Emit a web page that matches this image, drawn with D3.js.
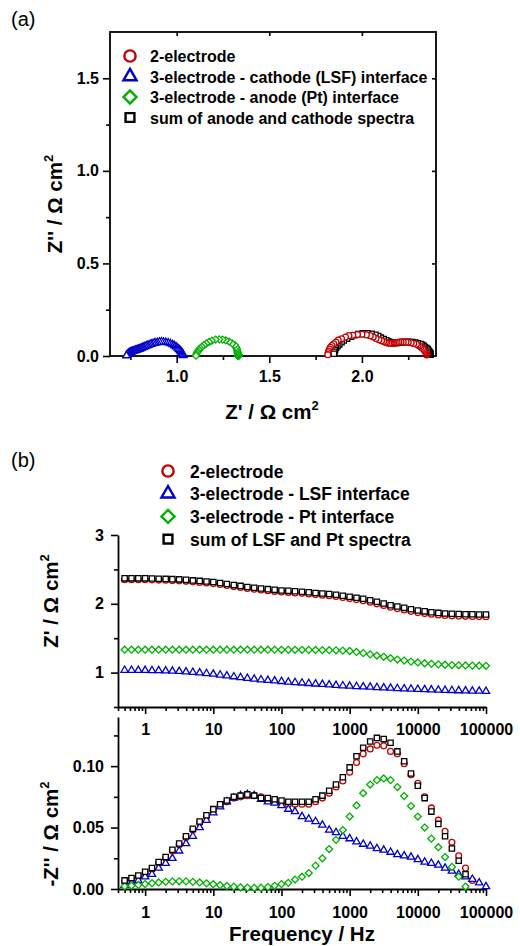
<!DOCTYPE html>
<html>
<head>
<meta charset="utf-8">
<script src="https://cdn.jsdelivr.net/npm/d3@7"></script>
<style>
  body { margin: 0; background: #fff; }
  svg { display: block; font-family: "Liberation Sans", Arial, sans-serif; }
  .tl { font-size: 16px; font-weight: bold; fill: #000; }
  .title { font-size: 20.5px; font-weight: bold; }
  .leg { font-weight: bold; }
</style>
</head>
<body>
<div id="chart"></div>
<script>
// frequencies (Hz), 10 points per decade
var freq = [0.5, 0.631, 0.794, 1, 1.26, 1.58, 2, 2.51, 3.16, 3.98, 5.01, 6.31, 7.94,
  10, 12.6, 15.8, 20, 25.1, 31.6, 39.8, 50.1, 63.1, 79.4,
  100, 126, 158, 200, 251, 316, 398, 501, 631, 794,
  1000, 1260, 1580, 2000, 2510, 3160, 3980, 5010, 6310, 7940,
  10000, 12600, 15800, 20000, 25100, 31600, 39800, 50100, 63100, 79400, 100000];

// 2-electrode
var zre2el = [2.35, 2.35, 2.35, 2.35, 2.348, 2.345, 2.342, 2.338, 2.334, 2.327, 2.319, 2.311, 2.303,
  2.294, 2.28, 2.266, 2.25, 2.238, 2.223, 2.211, 2.2, 2.19, 2.18,
  2.171, 2.164, 2.158, 2.152, 2.144, 2.134, 2.126, 2.117, 2.106, 2.092,
  2.076, 2.061, 2.045, 2.024, 2.0, 1.976, 1.951, 1.93, 1.911, 1.89,
  1.872, 1.86, 1.848, 1.838, 1.83, 1.825, 1.821, 1.818, 1.816, 1.814, 1.813];
var zim2el = [0.006, 0.008, 0.010, 0.013, 0.016, 0.021, 0.025, 0.031, 0.036, 0.042, 0.048, 0.054, 0.059,
  0.064, 0.068, 0.071, 0.074, 0.075, 0.076, 0.076, 0.075, 0.073, 0.071,
  0.070, 0.069, 0.069, 0.069, 0.069, 0.071, 0.074, 0.078, 0.083, 0.088,
  0.095, 0.103, 0.110, 0.114, 0.117, 0.1165, 0.112, 0.110, 0.102, 0.093,
  0.086, 0.075, 0.066, 0.056, 0.047, 0.038, 0.027, 0.017, 0.007, null, null];

// 3-electrode, cathode (LSF)
var zreLSF = [1.035, 1.035, 1.034, 1.033, 1.031, 1.029, 1.026, 1.022, 1.018, 1.012, 1.005, 0.997, 0.988,
  0.978, 0.966, 0.954, 0.941, 0.929, 0.918, 0.907, 0.897, 0.888, 0.88,
  0.872, 0.864, 0.857, 0.85, 0.843, 0.836, 0.829, 0.822, 0.816, 0.81,
  0.805, 0.799, 0.794, 0.789, 0.784, 0.779, 0.775, 0.77, 0.766, 0.762,
  0.758, 0.754, 0.75, 0.747, 0.744, 0.741, 0.738, 0.735, 0.733, 0.731, 0.729];
var zimLSF = [0.003, 0.005, 0.007, 0.010, 0.012, 0.017, 0.021, 0.025, 0.031, 0.037, 0.043, 0.050, 0.056,
  0.062, 0.067, 0.071, 0.074, 0.076, 0.077, 0.076, 0.073, 0.071, 0.070,
  0.068, 0.065, 0.063, 0.059, 0.057, 0.055, 0.052, 0.048, 0.046, 0.043,
  0.041, 0.0385, 0.0365, 0.035, 0.033, 0.0317, 0.030, 0.028, 0.027, 0.026,
  0.024, 0.022, 0.021, 0.0195, 0.017, 0.0146, 0.012, 0.010, 0.008, 0.005, 0.002];

// 3-electrode, anode (Pt)
var zrePt = [1.333, 1.333, 1.333, 1.333, 1.333, 1.333, 1.333, 1.333, 1.333, 1.333, 1.333, 1.333, 1.333,
  1.333, 1.333, 1.333, 1.333, 1.333, 1.333, 1.333, 1.333, 1.333, 1.333,
  1.332, 1.332, 1.331, 1.331, 1.330, 1.329, 1.328, 1.326, 1.324, 1.32,
  1.314, 1.30, 1.283, 1.265, 1.248, 1.23, 1.21, 1.19, 1.175, 1.16,
  1.147, 1.136, 1.127, 1.12, 1.114, 1.11, 1.106, 1.104, 1.102, 1.10, 1.099];
var zimPt = [0.0022, 0.0027, 0.0033, 0.004, 0.0047, 0.0053, 0.0058, 0.0062, 0.0063, 0.0062, 0.0058, 0.0053, 0.0046,
  0.0039, 0.0031, 0.0025, 0.0019, 0.0014, 0.0011, 0.001, 0.0011, 0.0016, 0.0026,
  0.004, 0.005, 0.0077, 0.010, 0.013, 0.019, 0.025, 0.0325, 0.040, 0.048,
  0.059, 0.068, 0.078, 0.085, 0.0886, 0.090, 0.0886, 0.083, 0.0756, 0.0675,
  0.059, 0.050, 0.041, 0.034, 0.026, 0.018, 0.010, 0.002, null, null, null];

// sum of anode and cathode spectra
var zreSum = [2.37, 2.37, 2.37, 2.37, 2.368, 2.365, 2.362, 2.358, 2.355, 2.348, 2.34, 2.333, 2.325,
  2.316, 2.302, 2.288, 2.272, 2.26, 2.245, 2.233, 2.223, 2.213, 2.203,
  2.194, 2.188, 2.182, 2.176, 2.168, 2.158, 2.15, 2.142, 2.132, 2.118,
  2.102, 2.088, 2.073, 2.052, 2.029, 2.005, 1.98, 1.96, 1.941, 1.92,
  1.902, 1.89, 1.878, 1.868, 1.86, 1.855, 1.852, 1.849, 1.847, 1.845, 1.844];
var zimSum = [0.007, 0.009, 0.011, 0.014, 0.017, 0.022, 0.026, 0.032, 0.037, 0.043, 0.049, 0.055, 0.060,
  0.065, 0.069, 0.072, 0.075, 0.076, 0.077, 0.076, 0.074, 0.074, 0.073,
  0.072, 0.071, 0.071, 0.071, 0.071, 0.073, 0.076, 0.080, 0.085, 0.091,
  0.099, 0.108, 0.115, 0.120, 0.123, 0.122, 0.119, 0.112, 0.104, 0.094,
  0.084, 0.074, 0.063, 0.053, 0.043, 0.033, 0.023, 0.012, null, null, null];

// legend texts
var legendA = ["2-electrode", "3-electrode - cathode (LSF) interface",
  "3-electrode - anode (Pt) interface", "sum of anode and cathode spectra"];
var legendB = ["2-electrode", "3-electrode - LSF interface",
  "3-electrode - Pt interface", "sum of LSF and Pt spectra"];

// ticks
var aXTicks = [1.0, 1.5, 2.0];
var aXMinor = [0.75, 1.25, 1.75, 2.25];
var aYTicks = [0.0, 0.5, 1.0, 1.5];
var aYMinor = [0.25, 0.75, 1.25];
var fTicks = [1, 10, 100, 1000, 10000, 100000];
var reTicks = [1, 2, 3];
var reMinor = [0.5, 1.5, 2.5];
var imTicks = [0.00, 0.05, 0.10];
var imMinor = [0.025, 0.075, 0.125];

var series = [
  {re: zre2el, im: zim2el, color: "#c00000", sym: "circle"},
  {re: zreLSF, im: zimLSF, color: "#0000c8", sym: "triangle"},
  {re: zrePt, im: zimPt, color: "#00b000", sym: "diamond"},
  {re: zreSum, im: zimSum, color: "#000000", sym: "square"}
];

var width = 520, height = 946;
var svg = d3.select("#chart").append("svg")
  .attr("width", width).attr("height", height);

// marker drawing
function marker(g, sym, big) {
  var s;
  if (sym == "circle") s = d3.symbol(d3.symbolCircle, big ? 100 : 27);
  else if (sym == "triangle") s = d3.symbol(d3.symbolTriangle, big ? 75 : 23);
  else s = d3.symbol(d3.symbolSquare, big ? (sym == "diamond" ? 85 : 78) : (sym == "diamond" ? 24 : 28));
  var p = g.append("path").attr("d", s());
  if (sym == "diamond") p.attr("transform", "rotate(45)");
  return p;
}

function drawPoints(g, s, xf, yf) {
  var idx = d3.range(freq.length).filter(function(i) { return s.im[i] != null; });
  idx.forEach(function(i) {
    var m = g.append("g").attr("transform", "translate(" + xf(i) + "," + yf(i) + ")");
    marker(m, s.sym, false).attr("fill", "#fff").attr("stroke", s.color).attr("stroke-width", 1.3);
  });
}

function styleAxis(g, fs) {
  g.attr("font-size", null).attr("font-family", null);
  g.selectAll("text").attr("class", "tl").style("font-size", fs + "px");
  g.selectAll("line").attr("stroke-width", 1.6);
  g.select(".domain").attr("stroke-width", 1.8);
}

function yTitle(x, y, txt) {
  var t = svg.append("text").attr("class", "title")
    .attr("transform", "translate(" + x + "," + y + ") rotate(-90)")
    .attr("text-anchor", "middle").text(txt);
  t.append("tspan").attr("dy", -9).style("font-size", "13px").text("2");
}

// ---------- panel (a) ----------
var xa = d3.scaleLinear().domain([0.64, 2.40]).range([110, 436]);
var ya = d3.scaleLinear().domain([0, 1.75]).range([356, 32]);

svg.append("text").attr("x", 11).attr("y", 26).style("font-size", "20px").text("(a)");

svg.append("g").attr("transform", "translate(0,356)")
  .call(d3.axisBottom(xa).tickValues(aXTicks).tickSize(7).tickSizeOuter(0).tickPadding(7.5).tickFormat(d3.format(".1f")))
  .call(function(g) { styleAxis(g, 16); g.select(".domain").remove(); });
svg.append("g").attr("transform", "translate(0,356)")
  .call(d3.axisBottom(xa).tickValues(aXMinor).tickSize(4).tickFormat(""))
  .call(function(g) { styleAxis(g, 16); g.select(".domain").remove(); });
svg.append("g").attr("transform", "translate(110,0)")
  .call(d3.axisLeft(ya).tickValues(aYTicks).tickSize(7).tickSizeOuter(0).tickPadding(4).tickFormat(d3.format(".1f")))
  .call(function(g) { styleAxis(g, 16); g.select(".domain").remove(); });
svg.append("g").attr("transform", "translate(110,0)")
  .call(d3.axisLeft(ya).tickValues(aYMinor).tickSize(4).tickFormat(""))
  .call(function(g) { styleAxis(g, 16); g.select(".domain").remove(); });
// inner ticks top and right
svg.append("g").attr("transform", "translate(0,32)")
  .call(d3.axisTop(xa).tickValues(aXTicks).tickSize(-4).tickFormat(""))
  .call(function(g) { styleAxis(g, 16); g.select(".domain").remove(); });
svg.append("g").attr("transform", "translate(436,0)")
  .call(d3.axisRight(ya).tickValues(aYTicks.slice(1)).tickSize(-4).tickFormat(""))
  .call(function(g) { styleAxis(g, 16); g.select(".domain").remove(); });

svg.append("rect").attr("x", 110).attr("y", 32).attr("width", 326).attr("height", 324)
  .attr("fill", "none").attr("stroke", "#000").attr("stroke-width", 1.8);

var ga = svg.append("g");
[3, 0, 2, 1].forEach(function(k) {
  var s = series[k];
  drawPoints(ga, s, function(i) { return xa(s.re[i]); }, function(i) { return ya(s.im[i]); });
});

// Nyquist axis titles
var tx = svg.append("text").attr("class", "title").attr("x", 272).attr("y", 419)
  .attr("text-anchor", "middle").text("Z' / \u03a9 cm");
tx.append("tspan").attr("dy", -9).style("font-size", "13px").text("2");
yTitle(62, 204, "Z'' / \u03a9 cm");

// legend (a)
legendA.forEach(function(txt, k) {
  var y = 56 + k * 20.5;
  var m = svg.append("g").attr("transform", "translate(130," + y + ")");
  marker(m, series[k].sym, true).attr("fill", "none").attr("stroke", series[k].color).attr("stroke-width", 2.4);
  svg.append("text").attr("class", "leg").attr("x", 150).attr("y", y + 6)
    .style("font-size", "16px").text(txt);
});

// ---------- panel (b) ----------
var xb = d3.scaleLog().domain([0.4, 100000]).range([118, 486]);
var yRe = d3.scaleLinear().domain([0.5, 3]).range([707, 535]);
var yIm = d3.scaleLinear().domain([0, 0.14]).range([889, 717]);

svg.append("text").attr("x", 11).attr("y", 467).style("font-size", "20px").text("(b)");

var fMinor = [];
[0.1, 1, 10, 100, 1000, 10000].forEach(function(d) {
  [2, 3, 4, 5, 6, 7, 8, 9].forEach(function(m) {
    var v = d * m;
    if (v >= 0.4 && v < 100000) fMinor.push(v);
  });
});

function freqAxis(y, pad) {
  svg.append("g").attr("transform", "translate(0," + y + ")")
    .call(d3.axisBottom(xb).tickValues(fTicks).tickSize(7).tickSizeOuter(0).tickPadding(pad).tickFormat(d3.format("d")))
    .call(function(g) { styleAxis(g, 16); });
  svg.append("g").attr("transform", "translate(0," + y + ")")
    .call(d3.axisBottom(xb).tickValues(fMinor).tickSize(4).tickFormat(""))
    .call(function(g) { styleAxis(g, 16); g.select(".domain").remove(); });
}
freqAxis(707, 10);
freqAxis(889, 10.5);

svg.append("g").attr("transform", "translate(118,0)")
  .call(d3.axisLeft(yRe).tickValues(reTicks).tickSize(7).tickSizeOuter(0).tickPadding(7).tickFormat(d3.format("d")))
  .call(function(g) { styleAxis(g, 16); });
svg.append("g").attr("transform", "translate(118,0)")
  .call(d3.axisLeft(yRe).tickValues(reMinor).tickSize(4).tickFormat(""))
  .call(function(g) { styleAxis(g, 16); g.select(".domain").remove(); });
svg.append("g").attr("transform", "translate(118,0)")
  .call(d3.axisLeft(yIm).tickValues(imTicks).tickSize(7).tickSizeOuter(0).tickPadding(7).tickFormat(d3.format(".2f")))
  .call(function(g) { styleAxis(g, 16); });
svg.append("g").attr("transform", "translate(118,0)")
  .call(d3.axisLeft(yIm).tickValues(imMinor).tickSize(4).tickFormat(""))
  .call(function(g) { styleAxis(g, 16); g.select(".domain").remove(); });

var gb = svg.append("g");
[0, 1, 2, 3].forEach(function(k) {
  var s = series[k];
  drawPoints(gb, {re: s.re, im: s.re, color: s.color, sym: s.sym},
    function(i) { return xb(freq[i]); }, function(i) { return yRe(s.re[i]); });
  drawPoints(gb, s, function(i) { return xb(freq[i]); }, function(i) { return yIm(s.im[i]); });
});

yTitle(58, 601, "Z' / \u03a9 cm");
yTitle(58, 834, "-Z'' / \u03a9 cm");
svg.append("text").attr("class", "title").attr("x", 302).attr("y", 941)
  .attr("text-anchor", "middle").text("Frequency / Hz");

// legend (b)
legendB.forEach(function(txt, k) {
  var y = 471 + k * 22.7;
  var m = svg.append("g").attr("transform", "translate(168," + y + ")");
  marker(m, series[k].sym, true).attr("fill", "none").attr("stroke", series[k].color).attr("stroke-width", 2.4);
  svg.append("text").attr("class", "leg").attr("x", 190).attr("y", y + 6.5)
    .style("font-size", "17.5px").text(txt);
});
</script>
</body>
</html>
